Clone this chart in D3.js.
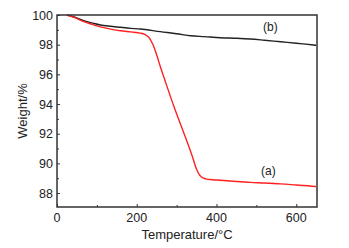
<!DOCTYPE html>
<html lang="en">
<head>
    <meta charset="UTF-8">
    <title>TGA curves</title>
    <style>
        body, html {
            margin: 0;
            padding: 0;
            background-color: #fff;
        }
        text {
            font-family: "Liberation Sans", Arial, sans-serif;
            fill: #222;
        }
    </style>
</head>
<body>
    <div id="chart"></div>

    <script src="https://d3js.org/d3.v7.min.js"></script>
    <script>
        // curve (a), red
        const tempA = [25, 45, 67, 90, 109, 135, 159, 185, 209, 220, 230, 240, 250, 260, 270, 293, 318, 339, 350, 358, 366, 375, 390, 410, 450, 485, 520, 561, 600, 648, 650];
        const weightA = [100, 99.82, 99.55, 99.35, 99.2, 99.05, 98.94, 98.86, 98.78, 98.7, 98.5, 98.05, 97.3, 96.45, 95.65, 93.85, 92.05, 90.5, 89.6, 89.2, 89.02, 88.94, 88.9, 88.86, 88.78, 88.72, 88.68, 88.62, 88.54, 88.44, 88.43];

        // curve (b), black
        const tempB = [25, 45, 67, 90, 109, 135, 159, 185, 209, 259, 300, 335, 370, 410, 450, 485, 520, 561, 600, 644, 650];
        const weightB = [100, 99.85, 99.62, 99.45, 99.33, 99.24, 99.17, 99.1, 99.06, 98.88, 98.74, 98.6, 98.54, 98.47, 98.43, 98.38, 98.3, 98.2, 98.1, 97.98, 97.96];

        const xTicks = [0, 200, 400, 600];
        const xMinor = [100, 300, 500];
        const yTicks = [88, 90, 92, 94, 96, 98, 100];
        const yMinor = [89, 91, 93, 95, 97, 99];

        const width = 349, height = 248;
        const margin = { top: 15, right: 32, bottom: 41, left: 57 };

        const svg = d3.select("#chart")
            .append("svg")
            .attr("width", width)
            .attr("height", height);

        const x = d3.scaleLinear()
            .domain([0, 652])
            .range([margin.left, width - margin.right]);

        const y = d3.scaleLinear()
            .domain([87.06, 100])
            .range([height - margin.bottom, margin.top]);

        // inward ticks
        svg.append("g")
            .attr("transform", `translate(0,${height - margin.bottom})`)
            .call(d3.axisTop(x).tickValues(xTicks).tickSize(3).tickFormat(""));
        svg.append("g")
            .attr("transform", `translate(0,${height - margin.bottom})`)
            .call(d3.axisTop(x).tickValues(xMinor).tickSize(2).tickFormat(""));
        svg.append("g")
            .attr("transform", `translate(${margin.left},0)`)
            .call(d3.axisRight(y).tickValues(yTicks).tickSize(3).tickFormat(""));
        svg.append("g")
            .attr("transform", `translate(${margin.left},0)`)
            .call(d3.axisRight(y).tickValues(yMinor).tickSize(2).tickFormat(""));
        svg.selectAll(".domain").remove();
        svg.selectAll(".tick line").attr("stroke", "#333").attr("stroke-width", 1);

        // tick labels
        svg.append("g")
            .selectAll("text")
            .data(xTicks)
            .join("text")
            .attr("x", d => x(d))
            .attr("y", height - margin.bottom + 15)
            .attr("text-anchor", "middle")
            .attr("font-size", "12.5px")
            .text(d => d);

        svg.append("g")
            .selectAll("text")
            .data(yTicks)
            .join("text")
            .attr("x", margin.left - 4)
            .attr("y", d => y(d) + 4.5)
            .attr("text-anchor", "end")
            .attr("font-size", "12.5px")
            .text(d => d);

        const line = d3.line()
            .x(d => x(d[0]))
            .y(d => y(d[1]))
            .curve(d3.curveCatmullRom.alpha(0.5));

        svg.append("path")
            .datum(d3.zip(tempB, weightB))
            .attr("fill", "none")
            .attr("stroke", "#222")
            .attr("stroke-width", 1.4)
            .attr("d", line);

        svg.append("path")
            .datum(d3.zip(tempA, weightA))
            .attr("fill", "none")
            .attr("stroke", "#ff2020")
            .attr("stroke-width", 1.4)
            .attr("d", line);

        // frame
        svg.append("rect")
            .attr("x", margin.left)
            .attr("y", margin.top)
            .attr("width", width - margin.left - margin.right)
            .attr("height", height - margin.top - margin.bottom)
            .attr("fill", "none")
            .attr("stroke", "#333")
            .attr("stroke-width", 1.5);

        // curve labels
        svg.append("text")
            .attr("x", x(535))
            .attr("y", y(98.92))
            .attr("text-anchor", "middle")
            .attr("font-size", "12px")
            .text("(b)");

        svg.append("text")
            .attr("x", x(530))
            .attr("y", y(89.2))
            .attr("text-anchor", "middle")
            .attr("font-size", "12px")
            .text("(a)");

        // axis titles
        svg.append("text")
            .attr("x", (margin.left + width - margin.right) / 2)
            .attr("y", height - 9)
            .attr("text-anchor", "middle")
            .attr("font-size", "13px")
            .text("Temperature/°C");

        svg.append("text")
            .attr("transform", `translate(27,${(margin.top + height - margin.bottom) / 2}) rotate(-90)`)
            .attr("text-anchor", "middle")
            .attr("font-size", "13px")
            .text("Weight/%");
    </script>
</body>
</html>
